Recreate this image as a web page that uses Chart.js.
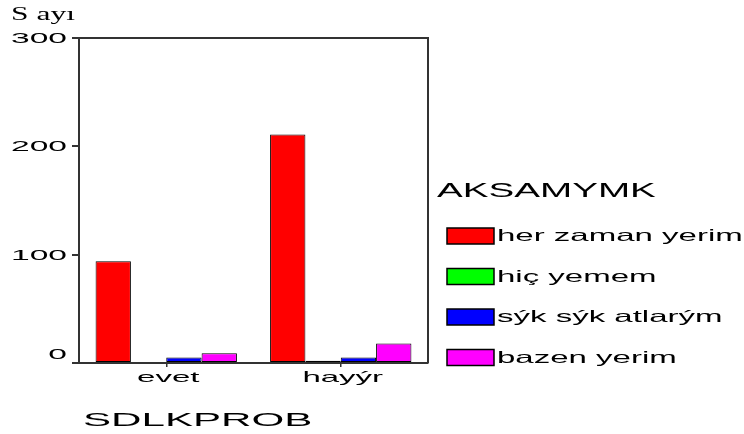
<!DOCTYPE html>
<html>
<head>
<meta charset="utf-8">
<script src="https://cdn.jsdelivr.net/npm/chart.js@4/dist/chart.umd.min.js"></script>
<style>
  body { margin: 0; background: #fff; }
</style>
</head>
<body>
<canvas id="grafico" width="744" height="434"></canvas>
<script>
const categorias = ["evet", "hayýr"];
const series = ["her zaman yerim", "hiç yemem", "sýk sýk atlarým", "bazen yerim"];
const herZaman = [94, 211];
const hicYemem = [0, 2];
const sikSik = [5, 5];
const bazen = [9, 18];
const colores = ["#ff0000", "#00ff00", "#0000ff", "#ff00ff"];
const yTicks = [0, 100, 200, 300];
const tituloY = "S ayı";
const tituloX = "SDLKPROB";
const tituloLeyenda = "AKSAMYMK";

// texto estirado en horizontal, como en la imagen original
const textoAncho = (ctx, txt, x, y, font, sx, align) => {
  ctx.save();
  ctx.font = font;
  ctx.fillStyle = "#000";
  ctx.textAlign = align || "left";
  ctx.textBaseline = "alphabetic";
  ctx.translate(x, y);
  ctx.scale(sx, 1);
  ctx.fillText(txt, 0, 0);
  ctx.restore();
};

const dibujoTextos = {
  id: "dibujoTextos",
  afterDraw(chart) {
    const ctx = chart.ctx;
    const area = chart.chartArea;
    const sy = chart.scales.y;
    const sxScale = chart.scales.x;

    // marco superior y derecho
    ctx.save();
    ctx.strokeStyle = "#333";
    ctx.lineWidth = 2;
    ctx.beginPath();
    ctx.moveTo(area.left, area.top);
    ctx.lineTo(area.right, area.top);
    ctx.lineTo(area.right, area.bottom);
    ctx.stroke();
    ctx.restore();

    // etiquetas del eje y
    yTicks.forEach((v) => {
      let py = sy.getPixelForValue(v) + 5;
      if (py > area.bottom - 4) py = area.bottom - 4;
      textoAncho(ctx, String(v), 67, py, "14px 'Liberation Sans'", 2.4, "right");
    });
    textoAncho(ctx, tituloY, 11, 20, "18px 'Liberation Serif'", 1.75, "left");

    // etiquetas del eje x
    categorias.forEach((c, i) => {
      const px = sxScale.getPixelForValue(i);
      textoAncho(ctx, c, px + 2, 382, "15px 'Liberation Sans'", 2.2, "center");
    });
    textoAncho(ctx, tituloX, 83, 426, "18px 'Liberation Sans'", 2.34, "left");

    // leyenda
    textoAncho(ctx, tituloLeyenda, 437, 197, "19.5px 'Liberation Sans'", 1.98, "left");
    chart.data.datasets.forEach((ds, i) => {
      const top = 228 + i * 40.5;
      ctx.save();
      ctx.fillStyle = ds.backgroundColor;
      ctx.strokeStyle = "#000";
      ctx.lineWidth = 1.5;
      ctx.fillRect(447, top, 47, 16);
      ctx.strokeRect(447, top, 47, 16);
      ctx.restore();
      textoAncho(ctx, ds.label, 497, top + 13, "16.5px 'Liberation Sans'", 2.0, "left");
    });
  }
};

const datos = [herZaman, hicYemem, sikSik, bazen];

const graf = new Chart(
  document.querySelector("#grafico"),
  {
    type: "bar",
    data: {
      labels: categorias,
      datasets: series.map((s, i) => ({
        label: s,
        data: datos[i],
        backgroundColor: colores[i],
        borderColor: "#000",
        borderWidth: 1,
        borderSkipped: false,
        categoryPercentage: 0.81,
        barPercentage: 1.0
      }))
    },
    options: {
      responsive: false,
      animation: false,
      devicePixelRatio: 1,
      layout: { padding: { left: 0, top: 38, right: 316, bottom: 0 } },
      plugins: {
        legend: { display: false },
        tooltip: { enabled: false }
      },
      scales: {
        x: {
          ticks: { display: false },
          grid: { drawOnChartArea: false, offset: false, tickLength: 4, color: "#333", lineWidth: 1.5 },
          border: { display: true, color: "#333", width: 2 },
          afterFit: (scale) => { scale.height = 71; }
        },
        y: {
          min: 0,
          max: 300,
          ticks: { display: false, stepSize: 100 },
          grid: { drawOnChartArea: false, tickLength: 7, color: "#333", lineWidth: 2 },
          border: { display: true, color: "#333", width: 2 },
          afterFit: (scale) => { scale.width = 79; }
        }
      }
    },
    plugins: [dibujoTextos]
  }
);
</script>
</body>
</html>
